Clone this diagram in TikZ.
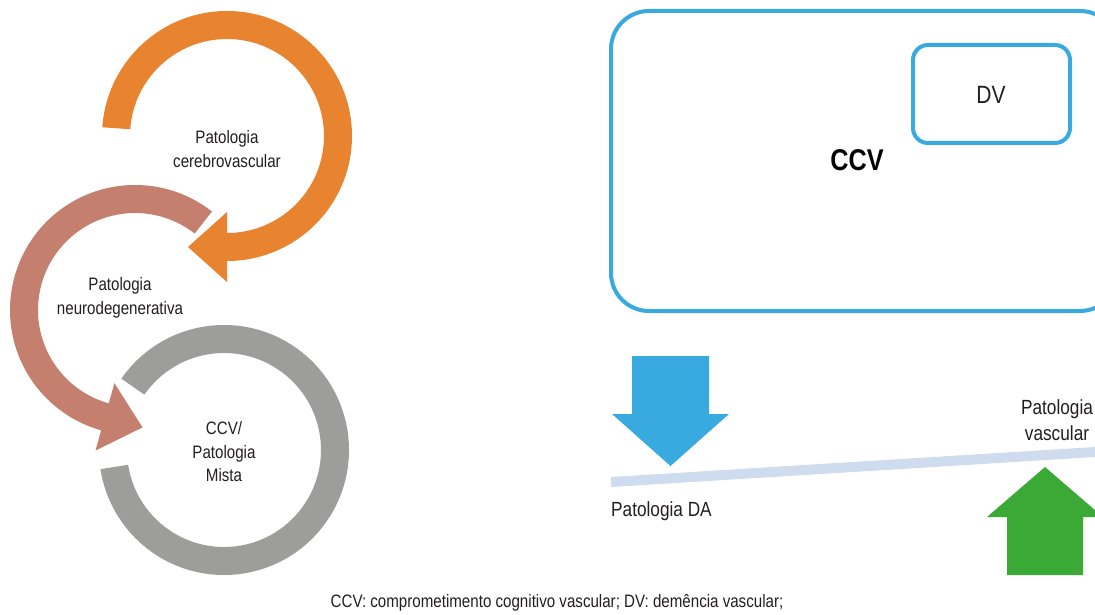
\documentclass[tikz,border=0pt]{standalone}
\usepackage{fontspec}
\setmainfont{Liberation Sans}[FakeStretch=0.84]
\usetikzlibrary{calc}
\definecolor{orangeC}{HTML}{E8832F}
\definecolor{pinkC}{HTML}{C47F6F}
\definecolor{grayC}{HTML}{9D9D9C}
\definecolor{blueC}{HTML}{38AAE0}
\definecolor{barC}{HTML}{CFDBEE}
\definecolor{greenC}{HTML}{3BA935}
\definecolor{txtC}{HTML}{231F20}
\begin{document}
\begin{tikzpicture}[x=1pt,y=-1pt,
  lbl/.style={text=txtC, font=\fontsize{18}{23.5}\selectfont, align=center, inner sep=0pt},
  biglbl/.style={text=txtC, font=\fontsize{20.5}{26}\selectfont, align=center, inner sep=0pt},
  boxline/.style={draw=blueC, line width=4pt}]
\useasboundingbox (0,0) rectangle (1095,615);
\clip (0,0) rectangle (1095,615);
\fill[white] (0,0) rectangle (1095,615);

% circular arrows
\coordinate (oc) at (227,136);
\coordinate (pc) at (135,310);
\coordinate (gc) at (224,450);

\fill[grayC] ($(gc)+(-145.2:125)$) arc[start angle=-145.2, end angle=171.2, radius=125]
  -- ($(gc)+(171.2:97)$) arc[start angle=171.2, end angle=-145.2, radius=97] -- cycle;

\fill[pinkC] ($(pc)+(-52:125)$) arc[start angle=-52, end angle=-254.3, radius=125]
  -- ($(pc)+(-254.3:146)$) -- ($(pc)+(-254.3:111)+(-344.3:39)$) -- ($(pc)+(-254.3:76)$)
  -- ($(pc)+(-254.3:97)$) arc[start angle=-254.3, end angle=-52, radius=97] -- cycle;

\fill[orangeC] ($(oc)+(184:125)$) arc[start angle=184, end angle=450, radius=125]
  -- ($(oc)+(90:146)$) -- ($(oc)+(90:111)+(180:39)$) -- ($(oc)+(90:76)$)
  -- ($(oc)+(90:97)$) arc[start angle=450, end angle=184, radius=97] -- cycle;

\node[lbl] (tcer) at (227,149) {Patologia\\cerebrovascular};
\node[lbl] (tneu) at (120,298) {Patologia\\neurodegenerativa};
\node[lbl] (tmis) at (224,452) {CCV/\\Patologia\\Mista};

% right side boxes
\draw[boxline, rounded corners=38pt] (611,11) rectangle (1118,311);
\draw[boxline, rounded corners=15pt] (913,45) rectangle (1070,143);
\node[text=txtC, font=\fontsize{25}{30}\selectfont, inner sep=0pt] (dv) at (991,95) {DV};
\node[text=black, font=\fontsize{30}{36}\selectfont\bfseries, inner sep=0pt] (ccv) at (857,160) {CCV};

% balance bar
\fill[barC] (611,477) -- (1095,447) -- (1095,457) -- (611,487) -- cycle;

% blue down arrow
\fill[blueC] (632,356) -- (709,356) -- (709,414) -- (729,414) -- (670.5,466) -- (612,414) -- (632,414) -- cycle;
% green up arrow
\fill[greenC] (1007,575) -- (1083,575) -- (1083,517) -- (1103,517) -- (1045,467) -- (987,517) -- (1007,517) -- cycle;

\node[biglbl, anchor=west] (tda) at (611,511) {Patologia DA};
\node[biglbl] (tvas) at (1057,420) {Patologia\\vascular};

\node[text=txtC, font=\fontsize{18}{22}\selectfont, inner sep=0pt] (cap) at (557,603)
  {CCV: comprometimento cognitivo vascular; DV: demência vascular;};
\end{tikzpicture}
\end{document}
